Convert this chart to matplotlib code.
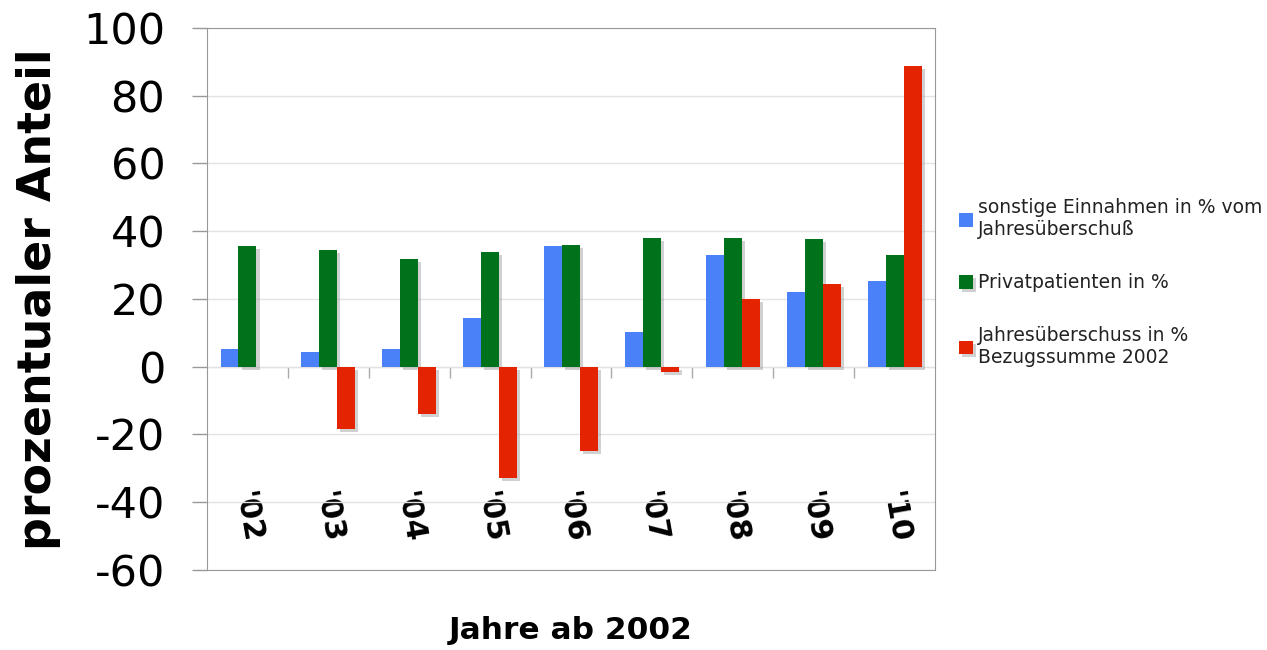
import numpy as np
import matplotlib.pyplot as plt
import matplotlib.patheffects as pe

jahre = ["'02", "'03", "'04", "'05", "'06", "'07", "'08", "'09", "'10"]
sonstige = [5.3, 4.4, 5.3, 14.5, 35.7, 10.3, 33.1, 22.0, 25.2]
privat = [35.7, 34.5, 31.9, 33.9, 36.0, 38.0, 38.0, 37.8, 33.0]
ueberschuss = [0.0, -18.3, -14.0, -32.7, -24.8, -1.5, 20.0, 24.3, 88.8]

labels = ['sonstige Einnahmen in % vom\nJahresüberschuß',
          'Privatpatienten in %',
          'Jahresüberschuss in %\nBezugssumme 2002']
colors = ['#4a80f8', '#00721c', '#e42300']

plt.rcParams['font.family'] = ['DejaVu Sans']
plt.rcParams['axes.unicode_minus'] = False

fig = plt.figure(figsize=(12.67, 6.5), dpi=100)
ax = fig.add_axes([0.1634, 0.1231, 0.5746, 0.8339])

x = np.arange(len(jahre))
w = 0.222
shadow = [pe.SimplePatchShadow(offset=(2.2, -2.2), shadow_rgbFace='#999999', alpha=0.45), pe.Normal()]
for i, (vals, c, lab) in enumerate(zip([sonstige, privat, ueberschuss], colors, labels)):
    bars = ax.bar(x + (i - 1) * w, vals, w, color=c, label=lab, zorder=3)
    if i > 0:
        for b in bars:
            b.set_path_effects(shadow)

ymin, ymax = -60, 100
ax.set_ylim(ymin, ymax)
ax.set_xlim(-0.5, len(jahre) - 0.5)
ax.set_yticks(np.arange(-60, 101, 20))
ax.yaxis.grid(True, color='#e3e3e3', linewidth=1, zorder=0)
ax.tick_params(axis='y', labelsize=31, length=11, color='#999999', width=1, pad=19)
for s in ax.spines.values():
    s.set_color('#999999')

# year labels drawn inside the plot area
ax.set_xticks(x)
ax.set_xticklabels(jahre, rotation=-80, fontsize=22, fontweight='bold')
ax.tick_params(axis='x', length=0, pad=-58)

# zero line with small ticks between the groups
sec = ax.secondary_xaxis((0 - ymin) / (ymax - ymin))
sec.set_xticks(np.arange(0.5, len(jahre) - 1, 1))
sec.set_xticklabels([])
sec.tick_params(axis='x', direction='out', length=8, color='#aaaaaa', width=1)
sec.spines['bottom'].set_color('#aaaaaa')

ax.set_ylabel('prozentualer Anteil', fontsize=33, fontweight='bold', labelpad=16)
ax.set_xlabel('Jahre ab 2002', fontsize=22.5, fontweight='bold', labelpad=33)

leg = ax.legend(loc='center left', bbox_to_anchor=(1.01, 0.53), frameon=False,
                fontsize=13.5, handlelength=0.75, handleheight=0.75, handletextpad=0.25,
                labelspacing=1.8)
for t in leg.get_texts():
    t.set_color('#222222')

fig.savefig('out.png', dpi=100)
